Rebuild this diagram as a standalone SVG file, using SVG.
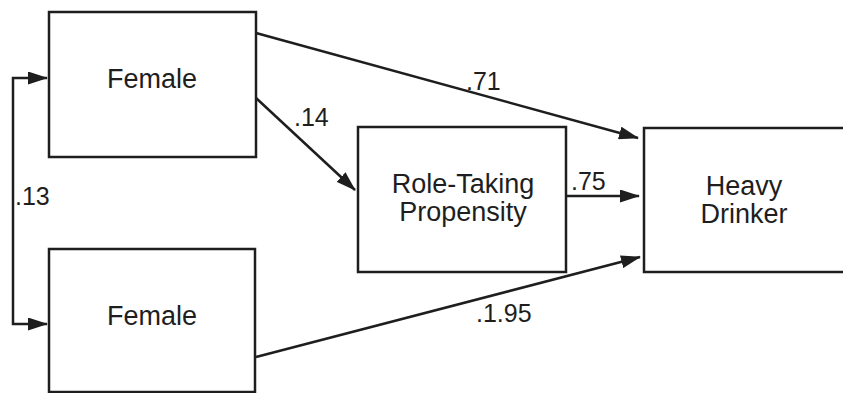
<svg xmlns="http://www.w3.org/2000/svg" width="843" height="393" viewBox="0 0 843 393">
  <style>
    .box { fill: #ffffff; stroke: #1e1e1e; stroke-width: 2.5; }
    .lbl { font-family: "Liberation Sans", Arial, sans-serif; font-size: 27px; fill: #1e1e1e; text-anchor: middle; }
    .coef { font-family: "Liberation Sans", Arial, sans-serif; font-size: 25px; fill: #1e1e1e; }
    .edge { fill: none; stroke: #1e1e1e; stroke-width: 2.5; }
  </style>
  <defs>
    <marker id="arrow" viewBox="0 0 20 13" refX="19" refY="6.5" markerWidth="20" markerHeight="13" markerUnits="userSpaceOnUse" orient="auto-start-reverse">
      <path d="M0,0 L20,6.5 L0,13 Z" fill="#1e1e1e"/>
    </marker>
  </defs>
  <rect width="843" height="393" fill="#ffffff"/>

  <g id="node-female-top">
    <rect class="box" x="49" y="12" width="207" height="145"/>
    <text class="lbl" x="152" y="88">Female</text>
  </g>
  <g id="node-female-bottom">
    <rect class="box" x="49" y="249" width="206" height="143"/>
    <text class="lbl" x="152" y="325">Female</text>
  </g>
  <g id="node-role-taking">
    <rect class="box" x="358" y="127" width="208" height="145"/>
    <text class="lbl" x="463" y="193">Role-Taking</text>
    <text class="lbl" x="463" y="221">Propensity</text>
  </g>
  <g id="node-heavy-drinker">
    <rect class="box" x="644" y="128" width="210" height="144"/>
    <text class="lbl" x="744" y="195">Heavy</text>
    <text class="lbl" x="744" y="223">Drinker</text>
  </g>

  <g id="connectors">
    <path class="edge" d="M47,78 L13,78 L13,324 L47,324" marker-start="url(#arrow)" marker-end="url(#arrow)"/>
    <line class="edge" x1="256" y1="33" x2="638" y2="138" marker-end="url(#arrow)"/>
    <line class="edge" x1="256" y1="98" x2="355" y2="190" marker-end="url(#arrow)"/>
    <line class="edge" x1="566" y1="196" x2="639" y2="196" marker-end="url(#arrow)"/>
    <line class="edge" x1="256" y1="357" x2="640" y2="257" marker-end="url(#arrow)"/>
  </g>

  <g id="coefficients">
    <text class="coef" x="466" y="90">.71</text>
    <text class="coef" x="294" y="126">.14</text>
    <text class="coef" x="15" y="205">.13</text>
    <text class="coef" x="571" y="190">.75</text>
    <text class="coef" x="476" y="322">.1.95</text>
  </g>
</svg>
